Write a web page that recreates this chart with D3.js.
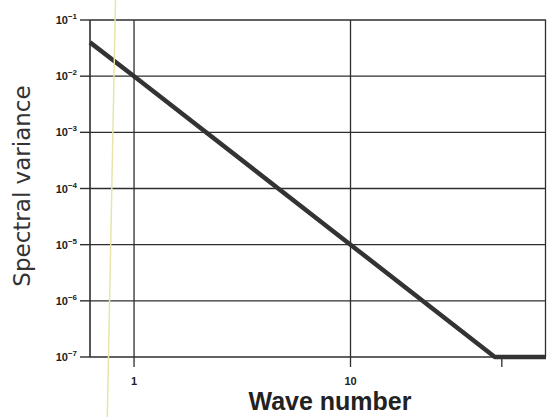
<!DOCTYPE html>
<html>
<head>
<meta charset="utf-8">
<script src="https://cdn.jsdelivr.net/npm/d3@7"></script>
<style>
    body { margin: 0; background: #fff; }
    svg { display: block; font-family: "Liberation Sans", Arial, sans-serif; }
</style>
</head>
<body>
<div id="chart"></div>
<script>
// spectrum: slope -3 down to the floor, then flat
const waveNumbers = [0.626, 1, 10, 46.4, 80];
const spectralValues = [0.04, 0.01, 1e-5, 1e-7, 1e-7];

const xTicks = [1, 10, 50];
const xTickLabels = ["1", "10", ""];
const xGrid = [1, 10];
const yExponents = [-1, -2, -3, -4, -5, -6, -7];

const width = 547, height = 417;
const margin = { top: 20, right: 1, bottom: 60, left: 90 };

const svg = d3.select("#chart")
    .append("svg")
    .attr("width", width)
    .attr("height", height);

const x = d3.scaleLog()
    .domain([0.626, 80])
    .range([margin.left, width - margin.right]);

const y = d3.scaleLog()
    .domain([1e-7, 1e-1])
    .range([height - margin.bottom, margin.top]);

const ink = "#2e2e2e";

// grid
svg.append("g")
    .selectAll("line")
    .data(yExponents)
    .enter()
    .append("line")
    .attr("x1", margin.left)
    .attr("x2", width - margin.right)
    .attr("y1", (d) => y(Math.pow(10, d)))
    .attr("y2", (d) => y(Math.pow(10, d)))
    .attr("stroke", ink)
    .attr("stroke-width", 1.4);

svg.append("g")
    .selectAll("line")
    .data(xGrid)
    .enter()
    .append("line")
    .attr("x1", (d) => x(d))
    .attr("x2", (d) => x(d))
    .attr("y1", y(1e-1))
    .attr("y2", y(1e-7))
    .attr("stroke", ink)
    .attr("stroke-width", 1.3);

// frame
svg.append("line")
    .attr("x1", x.range()[0]).attr("x2", x.range()[0])
    .attr("y1", y.range()[1]).attr("y2", y.range()[0])
    .attr("stroke", ink).attr("stroke-width", 1.6);
svg.append("line")
    .attr("x1", x.range()[1] - 0.5).attr("x2", x.range()[1] - 0.5)
    .attr("y1", y.range()[1]).attr("y2", y.range()[0])
    .attr("stroke", ink).attr("stroke-width", 1.3);

// y ticks + labels
const yTickG = svg.append("g")
    .selectAll("g")
    .data(yExponents)
    .enter()
    .append("g")
    .attr("transform", (d) => `translate(${margin.left}, ${y(Math.pow(10, d))})`);

yTickG.append("line")
    .attr("x1", -10)
    .attr("x2", 0)
    .attr("stroke", ink)
    .attr("stroke-width", 1.4);

const yLabel = yTickG.append("text")
    .attr("x", -13)
    .attr("y", 4)
    .attr("text-anchor", "end")
    .attr("fill", "#222")
    .style("font-weight", "bold")
    .style("font-size", "11px");
yLabel.append("tspan").text("10");
yLabel.append("tspan")
    .attr("dy", -5)
    .style("font-size", "8px")
    .text((d) => "\u2212" + Math.abs(d));

// x ticks + labels
const xTickG = svg.append("g")
    .selectAll("g")
    .data(xTicks)
    .enter()
    .append("g")
    .attr("transform", (d) => `translate(${x(d)}, ${y.range()[0]})`);

xTickG.append("line")
    .attr("y1", 0)
    .attr("y2", 10)
    .attr("stroke", ink)
    .attr("stroke-width", 1.3);

xTickG.append("text")
    .attr("y", 28)
    .attr("text-anchor", "middle")
    .attr("fill", "#222")
    .style("font-weight", "bold")
    .style("font-size", "11px")
    .text((d, i) => xTickLabels[i]);

// spectrum line
const points = waveNumbers.map((k, i) => ({ k: k, v: spectralValues[i] }));
svg.append("path")
    .datum(points)
    .attr("d", d3.line().x((d) => x(d.k)).y((d) => y(d.v)))
    .attr("fill", "none")
    .attr("stroke", "#333")
    .attr("stroke-width", 4.5)
    .attr("stroke-linejoin", "round");

// axis titles
svg.append("text")
    .attr("x", 330)
    .attr("y", 410)
    .attr("text-anchor", "middle")
    .attr("fill", "#222")
    .style("font-weight", "bold")
    .style("font-size", "25px")
    .text("Wave number");

svg.append("text")
    .attr("transform", "translate(30, 186) rotate(-90)")
    .attr("text-anchor", "middle")
    .attr("fill", "#333")
    .style("font-family", "'DejaVu Sans', sans-serif")
    .style("font-size", "23px")
    .text("Spectral variance");

// faint stray scan line
svg.append("line")
    .attr("x1", 115.5).attr("y1", 0)
    .attr("x2", 107.3).attr("y2", height)
    .attr("stroke", "#e6e6a8")
    .attr("stroke-width", 1.5);
</script>
</body>
</html>
